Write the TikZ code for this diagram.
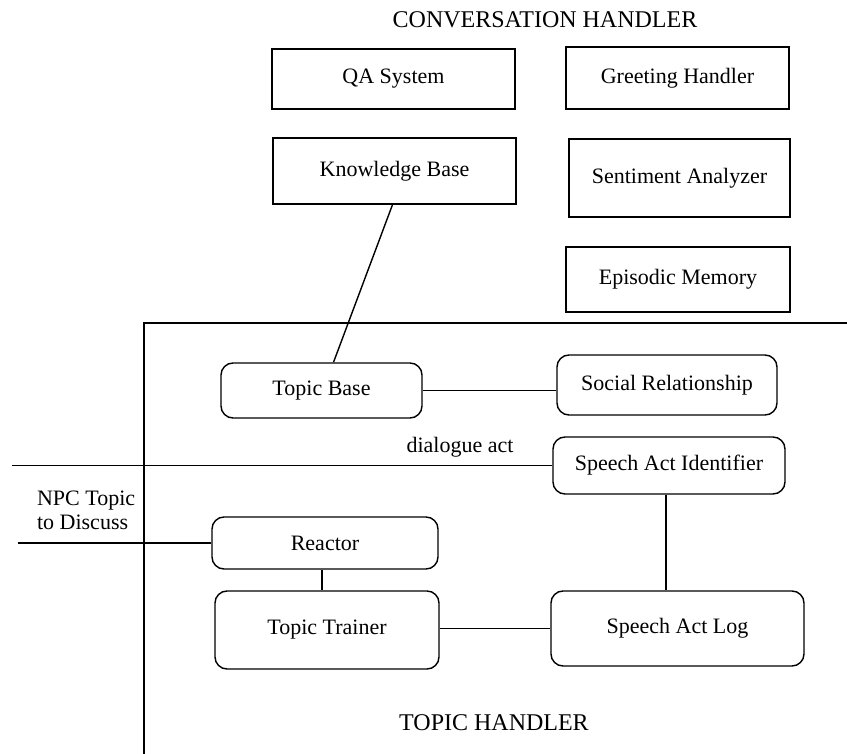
\documentclass[tikz,border=0pt]{standalone}
\usepackage{fontspec}
\setmainfont{Liberation Serif}
\usepackage{tikz}
\usetikzlibrary{
    shapes,
    calc,
    positioning,
}

\begin{document}
\begin{tikzpicture}[x=0.5pt,y=-0.5pt]

    \tikzstyle{commonNode}=[font=\fontsize{11}{12}\selectfont, align=center, line width=0.7pt, draw=black, inner sep=0pt]
    \tikzstyle{module}=[commonNode, rectangle]
    \tikzstyle{topicModule}=[commonNode, rectangle, rounded corners=6pt]
    \tikzstyle{caption}=[font=\fontsize{11}{12}\selectfont, align=center]
    \tikzstyle{title}=[font=\fontsize{12}{14}\selectfont]
    \tikzstyle{link}=[line width=0.7pt]

    \useasboundingbox (0,0) rectangle (847,754);

    \begin{scope}
        % Titles
        \node at (545, 20)  [title] (CHtitle) {CONVERSATION HANDLER};
        \node at (494, 723) [title] (THtitle) {TOPIC HANDLER};

        % Conversation handler modules
        \node at (393.5, 79)  [module, minimum width=121.5pt, minimum height=30pt] (QA)  {QA System};
        \node at (677.5, 78)  [module, minimum width=111.5pt, minimum height=31pt] (GH)  {Greeting Handler};
        \node at (394.5, 171) [module, minimum width=121.5pt, minimum height=33pt] (KB)  {Knowledge Base};
        \node at (679.5, 178) [module, minimum width=110.5pt, minimum height=39pt] (SA)  {Sentiment Analyzer};
        \node at (678, 279.5) [module, minimum width=112pt, minimum height=32.5pt] (EM)  {Episodic Memory};

        % Topic handler frame
        \coordinate (frameBottom) at (144, 754);
        \coordinate (frameCorner) at (144, 323);
        \coordinate (frameRight)  at (847, 323);
        \draw [link] (frameBottom) -- (frameCorner) -- (frameRight);

        % Topic handler modules
        \node at (321.5, 390.5) [topicModule, minimum width=100.5pt, minimum height=27.5pt] (TB)  {Topic Base};
        \node at (667, 385)     [topicModule, minimum width=110pt, minimum height=30pt]   (SR)  {Social Relationship};
        \node at (669, 465.5)   [topicModule, minimum width=116pt, minimum height=28.5pt] (SAI) {Speech Act Identifier};
        \node at (325, 543)     [topicModule, minimum width=113pt, minimum height=26pt]   (R)   {Reactor};
        \node at (327, 630)     [topicModule, minimum width=112pt, minimum height=39pt]   (TT)  {Topic Trainer};
        \node at (677.5, 628.5) [topicModule, minimum width=126.5pt, minimum height=37.5pt] (SAL) {Speech Act Log};

        % Inputs
        \coordinate (DAin)  at (12, 465.5);
        \coordinate (NPCin) at (18, 543);
        \node at (460, 447) [caption] (DA) {dialogue act};
        \node at (30, 510) [caption, anchor=west, align=left] (NPC) {NPC Topic\\to Discuss};

        % Connections
        \draw [link] ([xshift=-1pt]KB.south) -- ([xshift=6pt]TB.north);
        \draw [link] (TB.east) -- (TB.east -| SR.west);
        \draw [link] (DAin) -- (SAI.west);
        \draw [link] ([xshift=-1.5pt]SAI.south) -- ([xshift=-1.5pt]SAI.south |- SAL.north);
        \draw [link] (NPCin) -- (R.west);
        \draw [link] ([xshift=-1.5pt]R.south) -- ([xshift=-1.5pt]R.south |- TT.north);
        \draw [link] ([yshift=0.75pt]TT.east) -- ([yshift=0.75pt]TT.east -| SAL.west);
    \end{scope}

\end{tikzpicture}
\end{document}
